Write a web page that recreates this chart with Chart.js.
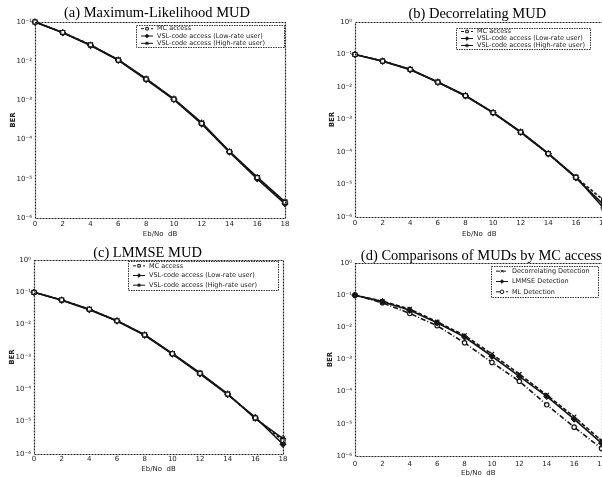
<!DOCTYPE html>
<html>
<head>
<meta charset="utf-8">
<script src="https://cdn.jsdelivr.net/npm/chart.js@4.4.1/dist/chart.umd.min.js"></script>
<style>
  html, body { margin: 0; padding: 0; background: #fff; }
  #page { position: relative; width: 602px; height: 477px; overflow: hidden; background: #fff; }
  canvas { position: absolute; }
</style>
</head>
<body>
<div id="page">
  <canvas id="chartA" width="300" height="240" style="left:0;top:0"></canvas>
  <canvas id="chartB" width="290" height="240" style="left:320px;top:0"></canvas>
  <canvas id="chartC" width="300" height="239" style="left:0;top:238px"></canvas>
  <canvas id="chartD" width="290" height="239" style="left:320px;top:238px"></canvas>
</div>
<script>
// Eb/No in dB
const snr = [0, 2, 4, 6, 8, 10, 12, 14, 16, 18];
const xTicks = [0, 2, 4, 6, 8, 10, 12, 14, 16, 18];
const yTickExps = [0, -1, -2, -3, -4, -5, -6];

// (a) Maximum-Likelihood MUD
const mlMC   = [1.0e-1, 5.4e-2, 2.6e-2, 1.07e-2, 3.5e-3, 1.07e-3, 2.6e-4, 4.9e-5, 1.07e-5, 2.5e-6];
const mlLow  = [1.0e-1, 5.3e-2, 2.5e-2, 1.05e-2, 3.4e-3, 1.05e-3, 2.5e-4, 4.8e-5, 1.0e-5, 2.3e-6];
const mlHigh = [1.0e-1, 5.4e-2, 2.6e-2, 1.1e-2, 3.6e-3, 1.1e-3, 2.7e-4, 5.0e-5, 1.1e-5, 2.6e-6];

// (b) Decorrelating MUD
const decMC   = [1.0e-1, 6.3e-2, 3.47e-2, 1.41e-2, 5.4e-3, 1.62e-3, 4.1e-4, 8.9e-5, 1.66e-5, 3.3e-6];
const decLow  = [1.0e-1, 6.2e-2, 3.4e-2, 1.4e-2, 5.3e-3, 1.6e-3, 4.0e-4, 8.7e-5, 1.6e-5, 2.4e-6];
const decHigh = [1.0e-1, 6.3e-2, 3.5e-2, 1.43e-2, 5.5e-3, 1.65e-3, 4.2e-4, 9.0e-5, 1.7e-5, 1.9e-6];

// (c) LMMSE MUD
const lmMC   = [1.0e-1, 5.8e-2, 3.0e-2, 1.32e-2, 4.8e-3, 1.26e-3, 3.1e-4, 7.1e-5, 1.3e-5, 2.6e-6];
const lmLow  = [1.0e-1, 5.7e-2, 2.9e-2, 1.3e-2, 4.7e-3, 1.22e-3, 3.0e-4, 6.9e-5, 1.35e-5, 2.0e-6];
const lmHigh = [1.0e-1, 5.8e-2, 3.0e-2, 1.33e-2, 4.9e-3, 1.28e-3, 3.2e-4, 7.3e-5, 1.25e-5, 3.0e-6];

// (d) comparison, MC access
const cmpDec   = [1.0e-1, 6.5e-2, 3.7e-2, 1.48e-2, 5.6e-3, 1.48e-3, 3.5e-4, 7.9e-5, 1.66e-5, 3.0e-6];
const cmpLmmse = [1.0e-1, 6.3e-2, 3.4e-2, 1.38e-2, 5.0e-3, 1.26e-3, 3.0e-4, 7.1e-5, 1.41e-5, 2.5e-6];
const cmpML    = [1.0e-1, 5.8e-2, 2.7e-2, 1.12e-2, 3.3e-3, 8.1e-4, 2.1e-4, 3.9e-5, 7.9e-6, 1.7e-6];

const accessLabels = ['MC access', 'VSL-code access (Low-rate user)', 'VSL-code access (High-rate user)'];
const detectLabels = ['Decorrelating Detection', 'LMMSE Detection', 'ML Detection'];

const INK = '#151515';
const SUP = {'-': '\u207B', '0': '\u2070', '1': '\u00B9', '2': '\u00B2', '3': '\u00B3', '4': '\u2074', '5': '\u2075', '6': '\u2076'};
function sup(n) { return String(n).split('').map(c => SUP[c]).join(''); }
function pts(values) { return values.map((v, i) => ({x: snr[i], y: v})); }

// dashed box round the plot area
const framePlugin = {
  id: 'frame',
  afterDatasetsDraw(chart) {
    const {ctx, chartArea: a} = chart;
    ctx.save();
    ctx.strokeStyle = '#222';
    ctx.lineWidth = 1.2;
    ctx.setLineDash([2, 1]);
    ctx.strokeRect(Math.round(a.left) + 0.5, Math.round(a.top) + 0.5, Math.round(a.width), Math.round(a.height));
    ctx.restore();
  }
};

const panelTitle = {
  id: 'panelTitle',
  afterDraw(chart, args, opts) {
    const {ctx, chartArea: a} = chart;
    ctx.save();
    ctx.font = '14.5px "Liberation Serif", serif';
    ctx.fillStyle = '#000';
    ctx.textAlign = 'center';
    ctx.textBaseline = 'alphabetic';
    ctx.fillText(opts.text, (a.left + a.right) / 2 + opts.dx, a.top - opts.gap);
    ctx.restore();
  }
};

// legend drawn inside the plot area, top right
const insetLegend = {
  id: 'insetLegend',
  afterDraw(chart, args, opts) {
    const {ctx, chartArea: a} = chart;
    const x = Math.round(a.right - opts.right - opts.width);
    const y = Math.round(a.top + opts.top);
    const dsets = chart.data.datasets;
    const rowH = opts.height / dsets.length;
    ctx.save();
    ctx.fillStyle = '#fff';
    ctx.fillRect(x, y, opts.width, opts.height);
    ctx.strokeStyle = '#333';
    ctx.lineWidth = 1;
    ctx.setLineDash([1.5, 1]);
    ctx.strokeRect(x + 0.5, y + 0.5, opts.width, opts.height);
    ctx.font = '6.5px "DejaVu Sans", sans-serif';
    ctx.textBaseline = 'middle';
    dsets.forEach((ds, i) => {
      const cy = y + rowH * (i + 0.5);
      ctx.strokeStyle = INK;
      ctx.lineWidth = 1;
      ctx.setLineDash(ds.borderDash || []);
      ctx.beginPath();
      ctx.moveTo(x + 5, cy);
      ctx.lineTo(x + 17, cy);
      ctx.stroke();
      ctx.setLineDash([]);
      ctx.fillStyle = ds.pointBackgroundColor;
      Chart.helpers.drawPoint(ctx, {pointStyle: ds.pointStyle, radius: 1.8, rotation: 0, borderWidth: 1}, x + 11, cy);
      ctx.fillStyle = '#222';
      ctx.fillText(ds.label, x + 21, cy);
    });
    ctx.restore();
  }
};

function series(label, values, style) {
  return Object.assign({
    label: label,
    data: pts(values),
    borderColor: INK,
    borderWidth: 1.6,
    pointBorderColor: INK,
    pointBorderWidth: 1.2,
    pointRadius: 2.8,
    tension: 0,
    clip: 5
  }, style);
}

const styleMC   = {borderDash: [3, 2], pointStyle: 'rect', pointBackgroundColor: '#fff'};
const styleLow  = {pointStyle: 'rectRot', pointBackgroundColor: INK};
const styleHigh = {pointStyle: 'star', pointBackgroundColor: INK, pointRadius: 3.2};

function makeChart(id, datasets, g) {
  return new Chart(document.getElementById(id), {
    type: 'line',
    data: {datasets: datasets},
    plugins: [framePlugin, panelTitle, insetLegend],
    options: {
      responsive: false,
      animation: false,
      devicePixelRatio: 1,
      layout: {padding: {top: g.top, right: g.right, left: 0, bottom: 0}},
      scales: {
        x: {
          type: 'linear', min: 0, max: 18,
          afterBuildTicks: s => { s.ticks = xTicks.map(v => ({value: v})); },
          afterFit: s => { s.height = g.bottomH; },
          grid: {display: false, drawTicks: false},
          border: {display: false},
          ticks: {color: '#222', font: {size: 7, family: 'DejaVu Sans'}, padding: g.xPad, maxRotation: 0, autoSkip: false},
          title: {display: true, text: 'Eb/No  dB', color: '#222', font: {size: 7, family: 'DejaVu Sans'}, padding: {top: 0, bottom: g.xTitlePad}}
        },
        y: {
          type: 'logarithmic', min: g.yMin, max: g.yMax,
          afterBuildTicks: s => {
            s.ticks = yTickExps.map(e => Math.pow(10, e))
              .filter(v => v >= g.yMin * 0.999 && v <= g.yMax * 1.001)
              .map(v => ({value: v}));
          },
          afterFit: s => { s.width = g.leftW; },
          grid: {display: false, drawTicks: false},
          border: {display: false},
          ticks: {
            color: '#222', font: {size: 7, family: 'DejaVu Sans'}, padding: 3, autoSkip: false,
            callback: v => '10' + sup(Math.round(Math.log10(v)))
          },
          title: {display: true, text: 'BER', color: '#222', font: {size: 7, family: 'DejaVu Sans', weight: 'bold'}, padding: {top: g.yTitlePad, bottom: 0}}
        }
      },
      plugins: {
        legend: {display: false},
        tooltip: {enabled: false},
        panelTitle: {text: g.title, dx: g.titleDx, gap: g.titleGap},
        insetLegend: g.legend
      }
    }
  });
}

makeChart('chartA', [
  series(accessLabels[0], mlMC, styleMC),
  series(accessLabels[1], mlLow, styleLow),
  series(accessLabels[2], mlHigh, styleHigh)
], {title: '(a) Maximum-Likelihood MUD', titleDx: -3, titleGap: 5, top: 22, right: 15, leftW: 35, bottomH: 22,
    xPad: 2, xTitlePad: 2, yTitlePad: 9, yMin: 1e-6, yMax: 1e-1,
    legend: {right: 1, top: 3, width: 148, height: 22}});

makeChart('chartB', [
  series(accessLabels[0], decMC, styleMC),
  series(accessLabels[1], decLow, styleLow),
  series(accessLabels[2], decHigh, styleHigh)
], {title: '(b) Decorrelating MUD', titleDx: -2, titleGap: 4, top: 22, right: 6, leftW: 35, bottomH: 23,
    xPad: 2, xTitlePad: 2, yTitlePad: 8, yMin: 1e-6, yMax: 1e0,
    legend: {right: 14, top: 6, width: 134, height: 21}});

makeChart('chartC', [
  series(accessLabels[0], lmMC, styleMC),
  series(accessLabels[1], lmLow, styleLow),
  series(accessLabels[2], lmHigh, styleHigh)
], {title: '(c) LMMSE MUD', titleDx: -11, titleGap: 3, top: 22, right: 17, leftW: 34, bottomH: 23,
    xPad: 1, xTitlePad: 4, yTitlePad: 8, yMin: 1e-6, yMax: 1e0,
    legend: {right: 5, top: 1, width: 150, height: 29}});

makeChart('chartD', [
  series(detectLabels[0], cmpDec, {borderDash: [4, 2], pointStyle: 'crossRot', pointBackgroundColor: '#fff', pointRadius: 3}),
  series(detectLabels[1], cmpLmmse, {pointStyle: 'rectRot', pointBackgroundColor: INK}),
  series(detectLabels[2], cmpML, {borderDash: [5, 2, 1, 2], pointStyle: 'circle', pointBackgroundColor: '#fff', pointRadius: 2.2})
], {title: '(d) Comparisons of MUDs by MC access', titleDx: 3, titleGap: 3, top: 25, right: 6, leftW: 35, bottomH: 21,
    xPad: 4, xTitlePad: 0, yTitlePad: 6, yMin: 1e-6, yMax: 1e0,
    legend: {right: 4, top: 3, width: 107, height: 31}});
</script>
</body>
</html>
